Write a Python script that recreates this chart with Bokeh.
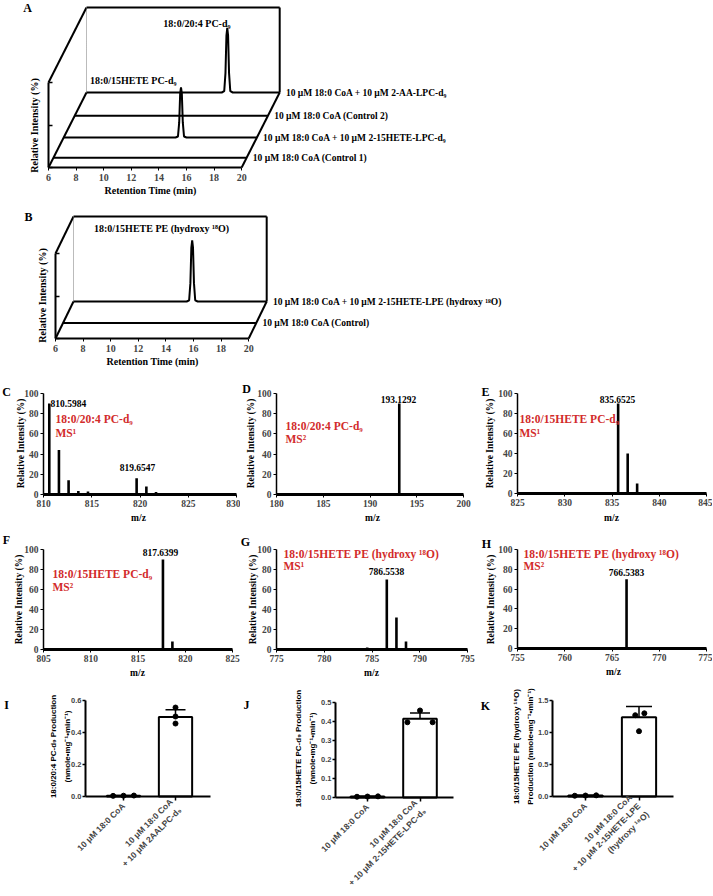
import math
from bokeh.plotting import figure
from bokeh.models import Range1d, FixedTicker, Whisker, ColumnDataSource, NumeralTickFormatter, TeeHead
from bokeh.layouts import column, row
from bokeh.embed import file_html
from bokeh.resources import INLINE
from bokeh.core.properties import value

SERIF = "Liberation Serif"
SANS = "Liberation Sans"
RED = "#d22b2b"

# ---------------- data: chromatograms (A, B) ----------------
rt_ticks = [6, 8, 10, 12, 14, 16, 18, 20]
rt_start, rt_end = 6, 20
peak_dt = [-0.40, -0.22, -0.13, -0.06, 0.0, 0.06, 0.13, 0.22, 0.40]
peak_rel = [0.0, 0.02, 0.30, 0.88, 1.0, 0.88, 0.30, 0.02, 0.0]

a_names = ["10 µM 18:0 CoA (Control 1)",
           "10 µM 18:0 CoA + 10 µM 2-15HETE-LPC-d₉",
           "10 µM 18:0 CoA (Control 2)",
           "10 µM 18:0 CoA + 10 µM 2-AA-LPC-d₉"]
a_depth = [0.13, 0.40, 0.69, 1.0]
a_peak_rt = [None, 14.5, None, 16.2]
a_peak_height = [0, 59, 0, 76]
a_peak_names = ["18:0/15HETE PC-d₉", "18:0/20:4 PC-d₉"]

b_names = ["10 µM 18:0 CoA (Control)",
           "10 µM 18:0 CoA + 10 µM 2-15HETE-LPE (hydroxy ¹⁸O)"]
b_depth = [0.42, 1.0]
b_peak_rt = [None, 14.6]
b_peak_height = [0, 72]
b_peak_name = "18:0/15HETE PE (hydroxy ¹⁸O)"

# ---------------- data: mass spectra (C-H) ----------------
c_mz = [810.60, 811.60, 812.60, 813.61, 814.61, 815.61, 816.60, 819.65, 820.66, 821.66]
c_int = [90, 44, 14, 3.5, 3, 1.5, 0.5, 16, 8, 2.5]
d_mz = [190.6, 192.2, 193.13, 194.15, 194.8]
d_int = [1.5, 0.3, 90, 1.5, 0.5]
e_mz = [835.65, 836.66, 837.66, 838.67, 839.70]
e_int = [90, 40, 10, 1.5, 0.5]
f_mz = [816.60, 817.64, 818.64]
f_int = [1, 90, 8]
g_mz = [784.50, 785.50, 786.55, 787.56, 788.56, 789.56]
g_int = [2, 1, 70, 32, 8, 1]
h_mz = [766.54]
h_int = [70]

# ---------------- data: production bars (I-K) ----------------
i_cats = ["10 μM 18:0 CoA", "10 μM 18:0 CoA\n+ 10 μM 2AALPC-d₉"]
i_mean = [0.005, 0.497]
i_sd = [0.002, 0.045]
i_pts = [[0.004, 0.005, 0.006], [0.556, 0.500, 0.456]]

j_cats = ["10 μM 18:0 CoA", "10 μM 18:0 CoA\n+ 10 μM 2-15HETE-LPC-d₉"]
j_mean = [0.005, 0.415]
j_sd = [0.002, 0.030]
j_pts = [[0.004, 0.005, 0.006], [0.458, 0.396, 0.396]]

k_cats = ["10 μM 18:0 CoA", "10 μM 18:0 CoA\n+ 10 μM 2-15HETE-LPE\n(hydroxy ¹⁸O)"]
k_mean = [0.015, 1.24]
k_sd = [0.005, 0.165]
k_pts = [[0.012, 0.015, 0.018], [1.30, 1.27, 1.02]]


# ---------------- helpers ----------------
def base(w, h, xr, yr):
    p = figure(frame_width=w, frame_height=h, min_border=0, x_range=xr, y_range=yr,
               output_backend="svg", toolbar_location=None)
    p.outline_line_color = None
    p.xgrid.visible = False
    p.ygrid.visible = False
    for ax in (p.xaxis[0], p.yaxis[0]):
        ax.minor_tick_line_color = None
        ax.axis_line_color = "black"
        ax.major_tick_line_color = "black"
    return p


def conv(x0, y0, left, bottom, sx, sy):
    return lambda px, py: (x0 + (px - left) / sx, y0 + (bottom - py) / sy)


def gtext(p, xy, text, size, color="black", align="center", baseline="middle", angle=0.0,
          font=SERIF, line_height=1.2):
    p.text(x=[xy[0]], y=[xy[1]], text=[text], text_font=value(font), text_font_style="bold",
           text_font_size=f"{size}px", text_align=align, text_baseline=baseline,
           angle=angle, color=color, text_line_height=line_height)


SX_RT, SY_INT = 13.8, 0.85


def chrom(names, depth, peak_rt, peak_h, dx_px, dy_px, w, h, left_pg, top_pg, floor_pg):
    sx, sy = SX_RT, SY_INT
    ddx, ddy = dx_px / sx, dy_px / sy
    x_start = rt_start - left_pg / sx
    y_start = -(top_pg + h - floor_pg) / sy
    p = base(w, h, Range1d(x_start, x_start + w / sx), Range1d(y_start, y_start + h / sy))
    ax = p.xaxis[0]
    ax.fixed_location = 0
    ax.bounds = (rt_start, rt_end)
    ax.ticker = FixedTicker(ticks=rt_ticks)
    ax.axis_line_width = 2
    ax.major_tick_out = 3
    ax.major_tick_in = 0
    ax.major_label_text_font = SERIF
    ax.major_label_text_font_style = "bold"
    ax.major_label_text_font_size = "10px"
    ax.major_label_standoff = 3
    ay = p.yaxis[0]
    ay.fixed_location = rt_start
    ay.bounds = (0, 100)
    ay.ticker = FixedTicker(ticks=[0, 50, 100])
    ay.major_label_overrides = {0: "", 50: "", 100: ""}
    ay.axis_line_width = 2
    ay.major_tick_out = 0
    ay.major_tick_in = 4
    ay.major_tick_line_width = 1.5
    # pseudo-3D box
    x_l, x_r, top = rt_start, rt_end, 100
    p.segment(x0=[x_l, x_l, x_r, x_l + ddx, x_r + ddx],
              y0=[top, 0, 0, top + ddy, ddy],
              x1=[x_l + ddx, x_l + ddx, x_r + ddx, x_r + ddx, x_r + ddx],
              y1=[top + ddy, ddy, ddy, top + ddy, top + ddy],
              line_width=2, color="black")
    p.segment(x0=[x_l + ddx], y0=[ddy], x1=[x_l + ddx], y1=[top + ddy],
              line_width=1, color="#777777", line_dash="1 1")
    for k, nm in enumerate(names):
        if peak_rt[k] is None:
            t, v = [rt_start, rt_end], [0, 0]
        else:
            t = [rt_start] + [peak_rt[k] + d for d in peak_dt] + [rt_end]
            v = [0] + [peak_h[k] * r for r in peak_rel] + [0]
        d = depth[k]
        p.line([ti + d * ddx for ti in t], [vi + d * ddy for vi in v], line_width=2, color="black")
        gtext(p, (rt_end + d * ddx + 0.45, d * ddy), nm, 9.5, align="left")
    return p, conv(rt_start, 0, left_pg, floor_pg, sx, sy)


# ---------------- Panel A (page y 0..210) ----------------
pA, cA = chrom(a_names, a_depth, a_peak_rt, a_peak_height, 38, 75, 470, 210, 48, 0, 167)
gtext(pA, cA(230, 23), a_peak_names[1], 10, align="right")
gtext(pA, cA(176, 80), a_peak_names[0], 10, align="right")
gtext(pA, cA(27, 7), "A", 12)
gtext(pA, cA(34, 125), "Relative Intensity (%)", 10, angle=math.pi / 2)
gtext(pA, cA(150, 190), "Retention Time (min)", 10)

# ---------------- Panel B (page y 210..378) ----------------
pB, cB = chrom(b_names, b_depth, b_peak_rt, b_peak_height, 18, 37, 510, 168, 55, 210, 338)
gtext(pB, cB(161, 228), b_peak_name, 10)
gtext(pB, cB(28, 216), "B", 12)
gtext(pB, cB(42, 295), "Relative Intensity (%)", 10, angle=math.pi / 2)
gtext(pB, cB(152, 361), "Retention Time (min)", 10)


# ---------------- spectra ----------------
def spectrum(let, mz, inten, x0, x1, cell, xpx, ypx, let_pg, ytitle_pg, xtitle_pg,
             peak_txt, peak_pg, peak_align, red1, red2, red_pg, red_gap):
    cx0, cx1, cy0, cy1 = cell
    px0, px1 = xpx
    py0, py100 = ypx
    sx = (px1 - px0) / (x1 - x0)
    sy = (py0 - py100) / 100
    xr = Range1d(x0 - (px0 - cx0) / sx, x0 + (cx1 - px0) / sx)
    yr = Range1d(-(cy1 - py0) / sy, (py0 - cy0) / sy)
    p = base(cx1 - cx0, cy1 - cy0, xr, yr)
    cv = conv(x0, 0, px0, py0, sx, sy)
    ax, ay = p.xaxis[0], p.yaxis[0]
    ax.fixed_location = 0
    ax.bounds = (x0, x1)
    ay.fixed_location = x0
    ay.bounds = (0, 100)
    ax.ticker = FixedTicker(ticks=list(range(x0, x1 + 1, 5)))
    ay.ticker = FixedTicker(ticks=[0, 20, 40, 60, 80, 100])
    for a in (ax, ay):
        a.major_label_text_font = SERIF
        a.major_label_text_font_style = "bold"
        a.major_label_text_font_size = "9.5px"
        a.major_tick_out = 3
        a.major_tick_in = 0
        a.major_label_standoff = 2
    ax.axis_line_width = 3
    ay.axis_line_width = 1.5
    p.segment(x0=mz, y0=[0] * len(mz), x1=mz, y1=inten, line_width=2.6, color="black")
    for txt, pg, al in zip(peak_txt, peak_pg, peak_align):
        gtext(p, cv(*pg), txt, 9.5, align=al)
    tx, ty = cv(*red_pg)
    gtext(p, (tx, ty), red1, 11.5, color=RED, align="left")
    gtext(p, (tx, ty - red_gap / sy), red2, 11.5, color=RED, align="left")
    gtext(p, cv(*let_pg), let, 12)
    gtext(p, cv(*ytitle_pg), "Relative Intensity (%)", 9.5, angle=math.pi / 2)
    gtext(p, cv(*xtitle_pg), "m/z", 9.5)
    return p


ROW1 = (378, 532)
ROW2 = (532, 686)
COLS = [(0, 240), (240, 476), (476, 712)]

spec_defs = [
    ("C", c_mz, c_int, 810, 830, COLS[0], ROW1, (43, 236), (494, 393), (6, 391), (20, 443), (138, 517),
     ["810.5984", "819.6547"], [(50, 403), (137, 467)], ["left", "center"],
     "18:0/20:4 PC-d₉", "MS¹", (55, 418), 14),
    ("D", d_mz, d_int, 180, 200, COLS[1], ROW1, (276, 463), (494, 393), (246, 388), (250, 443), (372, 517),
     ["193.1292"], [(398, 399)], ["center"],
     "18:0/20:4 PC-d₉", "MS²", (285, 425), 13),
    ("E", e_mz, e_int, 825, 845, COLS[2], ROW1, (517, 706), (493, 393), (485, 391), (489, 443), (611, 517),
     ["835.6525"], [(617, 399)], ["center"],
     "18:0/15HETE PC-d₉", "MS¹", (519, 418), 14),
    ("F", f_mz, f_int, 805, 825, COLS[0], ROW2, (43, 232), (649, 549), (6, 539), (18, 599), (137, 672),
     ["817.6399"], [(160, 552)], ["center"],
     "18:0/15HETE PC-d₉", "MS²", (52, 573), 13),
    ("G", g_mz, g_int, 775, 795, COLS[1], ROW2, (276, 467), (649, 549), (245, 541), (252, 599), (371, 672),
     ["786.5538"], [(386, 571)], ["center"],
     "18:0/15HETE PE (hydroxy ¹⁸O)", "MS¹", (283, 553), 12),
    ("H", h_mz, h_int, 755, 775, COLS[2], ROW2, (517, 706), (648, 549), (486, 543), (490, 599), (613, 671),
     ["766.5383"], [(626, 572)], ["center"],
     "18:0/15HETE PE (hydroxy ¹⁸O)", "MS²", (523, 553), 12),
]

spec_plots = []
for (let, mz, inten, x0, x1, col, rw, xpx, ypx, let_pg, yt_pg, xt_pg,
     ptxt, ppg, pal, r1, r2, rpg, rgap) in spec_defs:
    cell = (col[0], col[1], rw[0], rw[1])
    spec_plots.append(spectrum(let, mz, inten, x0, x1, cell, xpx, ypx, let_pg, yt_pg, xt_pg,
                               ptxt, ppg, pal, r1, r2, rpg, rgap))


# ---------------- bar panels ----------------
ROW3 = (686, 890)
BCOLS = [(0, 240), (240, 476), (476, 712)]


def barpanel(cats, mean, sd, pts, off2, ymax, ystep, ylabel, col, axis_px, b1_px, b2_px, end_px,
             y0_px, ytop_px, let, let_pg, ytitle_pg, cap):
    cx0, cx1 = col
    cy0, cy1 = ROW3
    sx = b2_px - b1_px
    sy = (y0_px - ytop_px) / ymax
    xr = Range1d(1 - (b1_px - cx0) / sx, 1 + (cx1 - b1_px) / sx)
    yr = Range1d(-(cy1 - y0_px) / sy, (y0_px - cy0) / sy)
    p = base(cx1 - cx0, cy1 - cy0, xr, yr)
    cv = conv(1, 0, b1_px, y0_px, sx, sy)
    x_axis_start = 1 - (b1_px - axis_px) / sx
    x_axis_end = 1 + (end_px - b1_px) / sx
    pos = [1, 2]
    p.vbar(x=pos, top=mean, width=0.64, fill_color="white", line_color="black", line_width=2)
    src = ColumnDataSource(dict(x=pos, u=[m + s for m, s in zip(mean, sd)],
                                l=[m - s for m, s in zip(mean, sd)]))
    p.add_layout(Whisker(source=src, base="x", upper="u", lower="l", line_width=1.5,
                         upper_head=TeeHead(size=cap, line_width=1.5),
                         lower_head=TeeHead(size=cap, line_width=1.5)))
    offs = [[-0.2, 0.0, 0.2], off2]
    px_, py_ = [], []
    for i, vals in enumerate(pts):
        for v, o in zip(vals, offs[i]):
            px_.append(pos[i] + o)
            py_.append(v)
    p.scatter(px_, py_, size=5, color="black")
    ax, ay = p.xaxis[0], p.yaxis[0]
    ax.fixed_location = 0
    ax.bounds = (x_axis_start, x_axis_end)
    ay.fixed_location = x_axis_start
    ay.bounds = (0, ymax)
    ax.ticker = FixedTicker(ticks=pos)
    ax.major_label_overrides = {1: cats[0], 2: cats[1]}
    ax.major_label_orientation = math.pi / 4
    n = int(round(ymax / ystep))
    ay.ticker = FixedTicker(ticks=[round(i * ystep, 3) for i in range(n + 1)])
    ay.formatter = NumeralTickFormatter(format="0.0")
    for a in (ax, ay):
        a.major_label_text_font = SANS
        a.major_label_text_font_style = "bold"
        a.axis_line_width = 2
        a.major_tick_line_width = 1.5
        a.major_tick_in = 0
    ax.major_tick_out = 4
    ay.major_tick_out = 3
    ax.major_label_text_font_size = "8.5px"
    ax.major_label_standoff = 4
    ay.major_label_text_font_size = "7.5px"
    ay.major_label_standoff = 1
    gtext(p, cv(*let_pg), let, 12)
    gtext(p, cv(*ytitle_pg), ylabel, 8, angle=math.pi / 2, font=SANS, line_height=1.5)
    return p


pI = barpanel(i_cats, i_mean, i_sd, i_pts, [0.0, 0.0, 0.0], 0.6, 0.2,
              "18:0/20:4 PC-d₉ Production\n(nmole•mg⁻¹•min⁻¹)",
              BCOLS[0], 85, 123, 175, 210, 796, 700, "I", (6, 704), (60, 746), 20)
pJ = barpanel(j_cats, j_mean, j_sd, j_pts, [0.0, -0.24, 0.24], 0.5, 0.1,
              "18:0/15HETE PC-d₉ Production\n(nmole•mg⁻¹•min⁻¹)",
              BCOLS[1], 335, 367, 419.5, 453, 797, 702, "J", (246, 704), (305, 748), 20)
pK = barpanel(k_cats, k_mean, k_sd, k_pts, [0.1, -0.07, 0.0], 1.5, 0.5,
              "18:0/15HETE PE (hydroxy ¹⁸O)\nProduction (nmole•mg⁻¹•min⁻¹)",
              BCOLS[2], 552, 585, 638.5, 673, 796, 700, "K", (485, 705), (523, 746), 26)

layout = column(pA, pB, row(*spec_plots[:3]), row(*spec_plots[3:]), row(pI, pJ, pK))

with open("out.html", "w") as f:
    f.write(file_html(layout, INLINE))
